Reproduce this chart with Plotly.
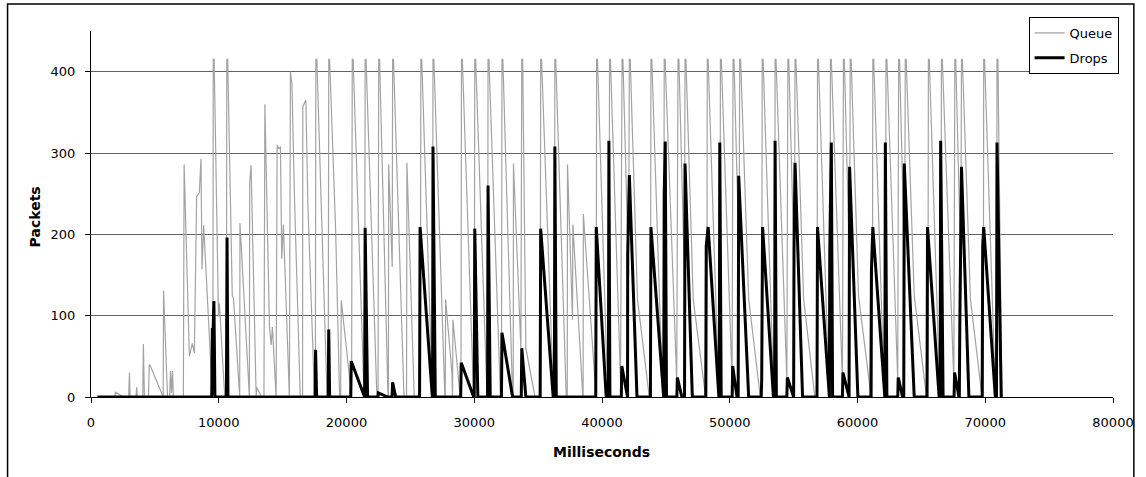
import plotly.graph_objects as go

# ---------------- data ----------------
queue_ms = [
    500, 1850, 1920, 2300, 2570, 2950, 3010, 3060, 3520, 3580, 3630, 4050, 4100, 4180,
    4500, 4560, 4650, 5650, 5680, 5990, 6150, 6220, 6300, 6380, 6450, 7230, 7290, 7700,
    7930, 8090, 8270, 8480, 8610, 8690, 8820, 9510, 9540, 9570, 9640, 9980, 10050, 10470,
    10600, 10630, 10700, 11060, 11150, 11640, 11660, 12400, 12420, 12530, 12930, 12960,
    13370, 13540, 13610, 13970, 14100, 14200, 14490, 14500, 14570, 14700, 14830, 14930,
    15060, 15530, 15610, 15730, 15920, 16380, 16560, 16580, 16820, 16980, 17500,
    17560, 17600, 17680, 18480, 18570, 18610, 18680, 19150, 19460, 19540, 19590, 20350,
    20400, 20450, 20520, 21380, 21420, 21460, 21530, 22380, 22470, 22520, 22590, 23250,
    23280, 23300, 23580, 23610, 23680, 24500, 24700, 24730, 25300, 25780, 25820, 25890,
    26700, 26730, 26770, 26840, 27700, 27730, 27760, 28250, 28300, 28330, 28900, 28960,
    29000, 29070, 29950, 30000, 30040, 30110, 31000, 31040, 31080, 31150, 32050, 32130,
    32170, 32240, 33000, 33050, 33070, 33650, 33720, 33790, 34040, 34760, 35160, 35200,
    35270, 36200, 36270, 36310, 36380, 37200, 37280, 37300, 37690, 37720, 38500, 38520,
    38540, 39500, 39540,
    39580, 39650, 40450, 40550, 40590, 40660, 41450, 41570, 41640, 42080, 42140, 42210,
    42780, 43700, 43790,
    43830, 43900, 44750, 44830, 44870, 44940, 45850, 45950, 46020, 46450, 46500, 46570,
    47140, 48110, 48200,
    48240, 48310, 49150, 49230, 49270, 49340, 50180, 50260, 50330, 50730, 50780, 50850,
    51480, 52390, 52500,
    52540, 52610, 53450, 53510, 53550, 53620, 54470, 54550, 54620, 55060, 55110, 55180,
    55780, 56660, 56830,
    56870, 56940, 57780, 57840, 57880, 57950, 58820, 58900, 58970, 59380, 59430, 59500,
    60080, 61070, 61160,
    61200, 61270, 62100, 62190, 62230, 62300, 63150, 63220, 63290, 63690, 63740, 63810,
    64440, 65400, 65510,
    65550, 65620, 66450, 66530, 66570, 66640, 67540, 67620, 67690, 68090, 68140, 68210,
    68840, 69750, 69840,
    69880, 69950, 70800, 70880, 70920, 70990, 71200, 71300,
]
queue_pkts = [
    0, 0, 6, 3, 0, 0, 30, 0, 0, 12, 0, 0, 65, 0,
    0, 40, 38, 0, 131, 0, 0, 32, 5, 32, 0, 0, 286, 50,
    66, 54, 247, 251, 293, 157, 211, 0, 0, 415, 415, 99, 115, 0,
    0, 415, 415, 124, 122, 0, 214, 0, 263, 285, 0, 12,
    0, 0, 360, 86, 64, 86, 0, 0, 310, 305, 308, 170,
    212, 0, 400, 385, 250, 0, 0, 357, 365, 235, 0,
    0, 415, 415, 0, 0, 415, 415, 205, 0, 0, 119, 0,
    0, 415, 415, 0, 0, 415, 415, 0, 0, 415, 415, 0,
    0, 286, 160, 415, 415, 0, 0, 288, 0, 0, 415, 415,
    0, 0, 415, 415, 0, 0, 120, 30, 0, 95, 0, 0,
    415, 415, 0, 0, 415, 415, 0, 0, 415, 415, 0, 0,
    415, 415, 0, 0, 287, 60, 415, 415, 60, 0, 0, 415,
    415, 0, 0, 415, 415, 0, 0, 286, 95, 212, 0, 0,
    225, 0, 0,
    415, 415, 0, 0, 415, 415, 20, 415, 415, 150, 415, 415,
    120, 0, 0,
    415, 415, 0, 0, 415, 415, 20, 415, 415, 150, 415, 415,
    120, 0, 0,
    415, 415, 0, 0, 415, 415, 20, 415, 415, 170, 415, 415,
    121, 0, 0,
    415, 415, 0, 0, 415, 415, 20, 415, 415, 150, 415, 415,
    121, 0, 0,
    415, 415, 0, 0, 415, 415, 20, 415, 415, 160, 415, 415,
    124, 0, 0,
    415, 415, 0, 0, 415, 415, 20, 415, 415, 160, 415, 415,
    125, 0, 0,
    415, 415, 0, 0, 415, 415, 20, 415, 415, 160, 415, 415,
    120, 0, 0,
    415, 415, 0, 0, 415, 415, 90, 0,
]

drops_ms = [
    500, 9450, 9500, 9560, 9620, 9700, 10600, 10650, 10720, 17540, 17580, 17660,
    18570, 18610, 18680, 20330, 20370, 21380, 21420, 21460, 21650, 22460, 22500, 23230,
    23570, 23610, 23850, 25720, 25760, 26720, 26740, 26770, 26950, 28940, 28980, 29960,
    30000, 30040, 30280, 31040, 31080, 31250, 32130, 32170, 33000, 33680, 33720, 34040,
    35160, 35200, 36180, 36270, 36310, 36420,
    39510, 39550, 40330, 40500, 40540, 40620, 41510, 41550, 42000, 42010, 42140, 42740,
    43790, 43830, 44790, 44830, 44870, 44950, 45050, 45860, 45900, 46250, 46460, 46500, 47070,
    48120, 48160, 48310, 49150, 49180, 49220, 49330, 50190, 50230, 50570, 50660, 50700, 51480,
    52460, 52500, 52570, 53420, 53510, 53550, 53650, 54470, 54510, 54980, 55000, 55030, 55110, 55700,
    56830, 56870, 57780, 57800, 57830, 57950, 58050, 58820, 58860, 59300, 59340, 59380, 60030,
    61050, 61090, 61200, 62100, 62140, 62180, 62300, 63150, 63190, 63530, 63620, 63660, 64440,
    65440, 65480, 66390, 66470, 66510, 66700, 67560, 67600, 67940, 67970, 68010, 68140, 68720,
    69760, 69800, 69880, 70790, 70880, 70920, 71180, 71250,
]
drops_pkts = [
    0, 0, 83, 83, 118, 0, 0, 196, 0, 0, 58, 0,
    0, 83, 0, 0, 44, 0, 0, 208, 0, 0, 5, 0,
    0, 18, 0, 0, 209, 0, 0, 308, 0, 0, 42, 0,
    0, 207, 0, 0, 260, 0, 0, 79, 0, 0, 60, 0,
    0, 207, 0, 0, 308, 0,
    0, 209, 0, 0, 315, 0, 0, 38, 0, 175, 273, 0,
    0, 209, 0, 0, 250, 314, 0, 0, 24, 0, 0, 287, 0,
    0, 186, 209, 0, 0, 313, 0, 0, 38, 0, 0, 272, 0,
    0, 20, 209, 0, 0, 315, 0, 0, 24, 0, 0, 182, 288, 0,
    0, 209, 0, 0, 180, 313, 0, 0, 30, 0, 0, 283, 0,
    0, 155, 209, 0, 0, 313, 0, 0, 24, 0, 0, 287, 0,
    0, 209, 0, 0, 315, 0, 0, 30, 0, 0, 90, 283, 0,
    0, 186, 209, 0, 0, 313, 82, 0,
]

x_ticks = [0, 10000, 20000, 30000, 40000, 50000, 60000, 70000, 80000]
y_ticks = [0, 100, 200, 300, 400]

# ---------------- figure ----------------
W, H = 1146, 477
L, R, T, B = 91, 26, 31, 80
pw, ph = W - L - R, H - T - B

def px_x(p):
    return (p - L) / pw

def px_y(p):
    return (H - B - p) / ph

fig = go.Figure()
fig.add_trace(go.Scatter(
    x=queue_ms, y=queue_pkts, mode="lines", name="Queue",
    line=dict(color="#a3a3a3", width=1.2), legendgroup="q",
))
fig.add_trace(go.Scatter(
    x=drops_ms, y=drops_pkts, mode="lines", name="Drops",
    line=dict(color="#000000", width=3), legendgroup="d",
))

font_family = "DejaVu Sans"
fig.update_layout(
    width=W, height=H,
    margin=dict(l=L, r=R, t=T, b=B, pad=0),
    paper_bgcolor="white", plot_bgcolor="white",
    font=dict(family=font_family, size=13, color="black"),
    showlegend=True,
    legend=dict(
        x=px_x(1035), y=px_y(17), xanchor="left", yanchor="top",
        bordercolor="black", borderwidth=1, bgcolor="white",
        font=dict(family=font_family, size=13, color="black"),
        traceorder="grouped", tracegroupgap=5, itemwidth=30,
    ),
    xaxis=dict(
        range=[0, 80000], tickvals=x_ticks, ticktext=[str(v) for v in x_ticks],
        showgrid=False, zeroline=False, showline=True, linecolor="black", linewidth=1,
        ticks="outside", ticklen=5, tickcolor="black", tickwidth=1,
        ticklabelstandoff=8,
    ),
    yaxis=dict(
        range=[0, 450], tickvals=y_ticks, ticktext=[str(v) for v in y_ticks],
        showgrid=True, gridcolor="#626262", gridwidth=1, zeroline=False,
        showline=True, linecolor="black", linewidth=1,
        ticks="outside", ticklen=5, tickcolor="black", tickwidth=1,
        ticklabelstandoff=7,
    ),
    annotations=[
        dict(text="<b>Packets</b>", xref="paper", yref="paper",
             x=px_x(35), y=px_y(217), textangle=-90, showarrow=False,
             xanchor="center", yanchor="middle",
             font=dict(family=font_family, size=14, color="black")),
        dict(text="<b>Milliseconds</b>", xref="paper", yref="paper",
             x=px_x(605), y=px_y(452), showarrow=False,
             xanchor="center", yanchor="middle",
             font=dict(family=font_family, size=14, color="black")),
    ],
    shapes=[
        dict(type="rect", xref="paper", yref="paper",
             x0=px_x(7), x1=px_x(1141), y0=px_y(485), y1=px_y(4),
             line=dict(color="black", width=1.5), fillcolor="rgba(0,0,0,0)",
             layer="below"),
    ],
)

fig.write_html("out.html")
